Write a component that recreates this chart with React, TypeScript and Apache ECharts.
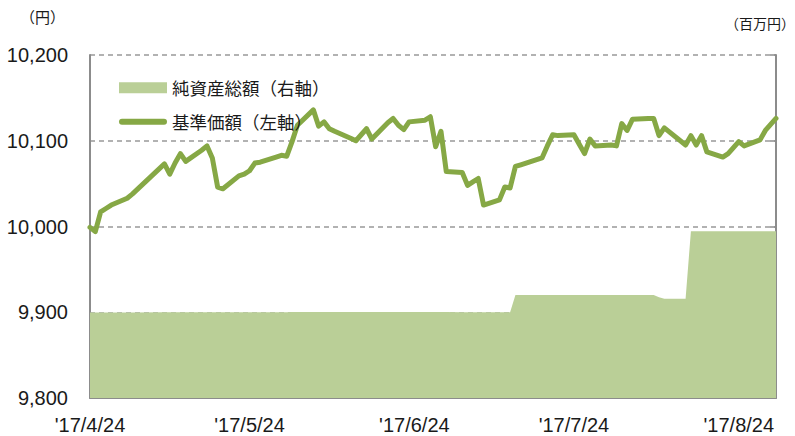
import React, { useEffect, useRef } from 'react';
import * as echarts from 'echarts';

// Business days (data points)
const dates = [
  '2017/4/24', '2017/4/25', '2017/4/26', '2017/4/27', '2017/4/28',
  '2017/5/1', '2017/5/2', '2017/5/8', '2017/5/9', '2017/5/10', '2017/5/11', '2017/5/12',
  '2017/5/15', '2017/5/16', '2017/5/17', '2017/5/18', '2017/5/19',
  '2017/5/22', '2017/5/23', '2017/5/24', '2017/5/25', '2017/5/26',
  '2017/5/29', '2017/5/30', '2017/5/31', '2017/6/1', '2017/6/2',
  '2017/6/5', '2017/6/6', '2017/6/7', '2017/6/8', '2017/6/9',
  '2017/6/12', '2017/6/13', '2017/6/14', '2017/6/15', '2017/6/16',
  '2017/6/19', '2017/6/20', '2017/6/21', '2017/6/22', '2017/6/23',
  '2017/6/26', '2017/6/27', '2017/6/28', '2017/6/29', '2017/6/30',
  '2017/7/3', '2017/7/4', '2017/7/5', '2017/7/6', '2017/7/7',
  '2017/7/10', '2017/7/11', '2017/7/12', '2017/7/13', '2017/7/14',
  '2017/7/18', '2017/7/19', '2017/7/20', '2017/7/21',
  '2017/7/24', '2017/7/25', '2017/7/26', '2017/7/27', '2017/7/28',
  '2017/7/31', '2017/8/1', '2017/8/2', '2017/8/3', '2017/8/4',
  '2017/8/7', '2017/8/8', '2017/8/9', '2017/8/10',
  '2017/8/14', '2017/8/15', '2017/8/16', '2017/8/17', '2017/8/18',
  '2017/8/21', '2017/8/22', '2017/8/23', '2017/8/24', '2017/8/25',
  '2017/8/28', '2017/8/29', '2017/8/30', '2017/8/31',
];

// 基準価額 (円)
const navValues = [
  9999, 9994, 10017, 10021, 10025,
  10033, 10038, 10073, 10061, 10074, 10085, 10076,
  10089, 10094, 10080, 10046, 10044,
  10059, 10061, 10065, 10074, 10075,
  10081, 10083, 10082, 10099, 10118,
  10136, 10117, 10122, 10114, 10111,
  10103, 10100, 10107, 10114, 10102,
  10121, 10126, 10118, 10113, 10122,
  10124, 10128, 10093, 10111, 10064,
  10063, 10048, 10052, 10056, 10025,
  10031, 10046, 10045, 10070, 10072,
  10080, 10094, 10107, 10106,
  10107, 10096, 10085, 10102, 10094,
  10095, 10094, 10120, 10112, 10125,
  10126, 10126, 10106, 10115,
  10095, 10106, 10095, 10106, 10087,
  10081, 10085, 10092, 10099, 10094,
  10101, 10112, 10119, 10126,
];

// 純資産総額 (百万円)
const assetValues = [
  99.8, 99.8, 99.8, 99.8, 99.8,
  99.8, 99.8, 100.1, 100.1, 100.1, 100.1, 100.1,
  100.1, 100.1, 100.1, 100.1, 100.1,
  100.1, 100.1, 100.1, 100.1, 100.1,
  100.1, 100.1, 100.1, 100.2, 100.2,
  100.2, 100.2, 100.2, 100.2, 100.2,
  100.2, 100.2, 100.2, 100.2, 100.2,
  100.2, 100.2, 100.2, 100.2, 100.2,
  100.2, 100.2, 100.2, 100.2, 100.2,
  99.9, 99.9, 99.9, 99.9, 99.9,
  99.9, 99.9, 99.9, 120.0, 120.0,
  120.0, 120.0, 120.2, 120.2,
  120.2, 120.2, 120.2, 120.2, 120.2,
  120.2, 120.1, 120.1, 120.1, 120.1,
  120.0, 120.0, 117.5, 115.8,
  115.8, 194.6, 194.6, 194.6, 194.6,
  194.6, 194.6, 194.6, 194.6, 194.6,
  194.6, 194.5, 194.5, 194.5,
];

const leftTicks = { min: 9800, max: 10200, interval: 100 };
const rightTicks = { min: 0, max: 400, interval: 100 };

const calStart = '2017/4/24';
const calEnd = '2017/8/31';

const seriesAsset = '純資産総額（右軸）';
const seriesNav = '基準価額（左軸）';

function fmtDate(d: Date) {
  return `${d.getFullYear()}/${d.getMonth() + 1}/${d.getDate()}`;
}

function buildCalendar(start: string, end: string) {
  const [ys, ms, ds] = start.split('/').map(Number);
  const [ye, me, de] = end.split('/').map(Number);
  const cur = new Date(ys, ms - 1, ds);
  const last = new Date(ye, me - 1, de);
  const out: string[] = [];
  while (cur <= last) {
    out.push(fmtDate(cur));
    cur.setDate(cur.getDate() + 1);
  }
  return out;
}

const GREEN_LINE = '#86a845';
const GREEN_AREA = '#bacf97';
const AXIS = '#8c8c8c';
const NUM_FONT = "'Liberation Sans', Arial, sans-serif";
const JP_FONT = "'Noto Sans CJK JP', sans-serif";

export default function App() {
  const ref = useRef<HTMLDivElement>(null);

  useEffect(() => {
    document.body.style.margin = '0';
    if (!ref.current) return;
    const chart = echarts.init(ref.current, null, { renderer: 'svg' });
    const calendar = buildCalendar(calStart, calEnd);
    const navMap = new Map<string, number>();
    const assetMap = new Map<string, number>();
    dates.forEach((d, i) => {
      navMap.set(d, navValues[i]);
      assetMap.set(d, assetValues[i]);
    });
    const navData = calendar.map((d) => (navMap.has(d) ? navMap.get(d)! : null));
    const assetData = calendar.map((d) => (assetMap.has(d) ? assetMap.get(d)! : null));
    const isLabelDay = (_i: number, v: string) => v.endsWith('/24');

    chart.setOption({
      animation: false,
      grid: { left: 90, right: 19, top: 55, bottom: 38 },
      legend: [
        {
          data: [{ name: seriesAsset, icon: 'rect' }],
          orient: 'vertical',
          left: 114,
          top: 74,
          itemWidth: 48,
          itemHeight: 11,
          selectedMode: false,
          textStyle: { fontSize: 17.5, color: '#1a1a1a', fontFamily: JP_FONT },
        },
        {
          data: [{ name: seriesNav, icon: 'path://M3,0 H45 A3,3 0 0 1 45,6 H3 A3,3 0 0 1 3,0 Z' }],
          orient: 'vertical',
          left: 114,
          top: 108,
          itemWidth: 48,
          itemHeight: 6,
          selectedMode: false,
          itemStyle: { color: GREEN_LINE, borderWidth: 0 },
          textStyle: { fontSize: 17.5, color: '#1a1a1a', fontFamily: JP_FONT },
        },
      ],
      graphic: [
        {
          type: 'text',
          left: 20,
          top: 9,
          style: { text: '（円）', fontSize: 15, fill: '#1a1a1a', fontFamily: JP_FONT },
        },
        {
          type: 'text',
          left: 725,
          top: 16,
          style: { text: '（百万円）', fontSize: 14, fill: '#1a1a1a', fontFamily: JP_FONT },
        },
      ],
      xAxis: {
        type: 'category',
        data: calendar,
        boundaryGap: false,
        axisLine: { lineStyle: { color: AXIS, width: 2 } },
        axisTick: { show: true, inside: true, length: 6, interval: isLabelDay, lineStyle: { color: AXIS, width: 1.5 } },
        axisLabel: {
          interval: isLabelDay,
          margin: 17,
          fontSize: 20,
          color: '#1a1a1a',
          fontFamily: NUM_FONT,
          formatter: (v: string) => {
            const [y, m, d] = v.split('/');
            return `'${y.slice(2)}/${m}/${d}`;
          },
        },
        splitLine: { show: false },
      },
      yAxis: [
        {
          type: 'value',
          position: 'left',
          min: leftTicks.min,
          max: leftTicks.max,
          interval: leftTicks.interval,
          axisLine: { show: true, lineStyle: { color: AXIS, width: 2 } },
          axisTick: { show: false },
          axisLabel: {
            margin: 22,
            fontSize: 20,
            color: '#1a1a1a',
            fontFamily: NUM_FONT,
            formatter: (v: number) => v.toLocaleString('en-US'),
          },
          splitLine: { show: true, lineStyle: { color: '#999999', width: 1.5, type: [5, 4] } },
        },
        {
          type: 'value',
          position: 'right',
          min: rightTicks.min,
          max: rightTicks.max,
          interval: rightTicks.interval,
          axisLine: { show: true, lineStyle: { color: AXIS, width: 2 } },
          axisTick: { show: true, inside: true, length: 6, lineStyle: { color: AXIS, width: 1.5 } },
          axisLabel: { show: false },
          splitLine: { show: false },
        },
      ],
      series: [
        {
          name: seriesAsset,
          type: 'line',
          yAxisIndex: 1,
          data: assetData,
          connectNulls: true,
          symbol: 'none',
          lineStyle: { width: 0, color: GREEN_AREA },
          itemStyle: { color: GREEN_AREA },
          areaStyle: { color: GREEN_AREA, opacity: 1 },
          z: 1,
        },
        {
          name: seriesNav,
          type: 'line',
          yAxisIndex: 0,
          data: navData,
          connectNulls: true,
          symbol: 'none',
          lineStyle: { width: 5, color: GREEN_LINE, cap: 'round', join: 'round' },
          itemStyle: { color: GREEN_LINE },
          z: 3,
        },
      ],
    });
    return () => chart.dispose();
  }, []);

  return <div ref={ref} style={{ width: 795, height: 436 }} />;
}
